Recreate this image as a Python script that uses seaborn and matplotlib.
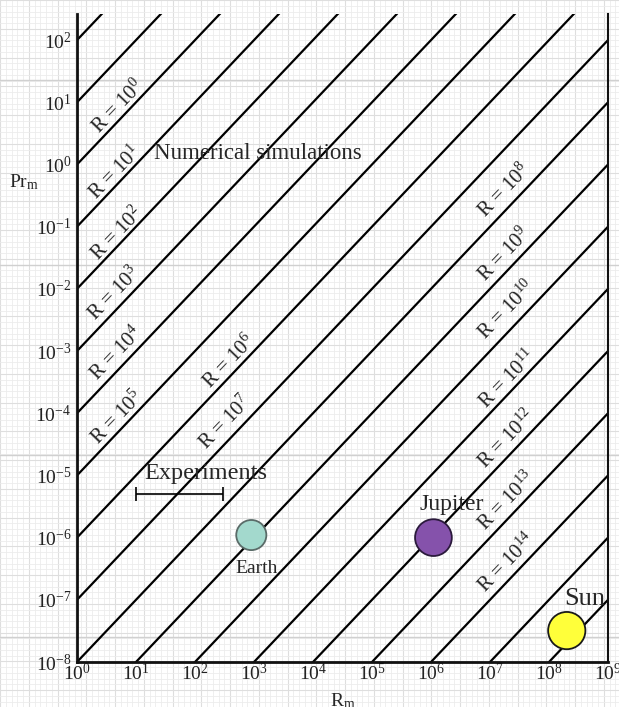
import numpy as np
import pandas as pd
import matplotlib
matplotlib.use('Agg')
from matplotlib import pyplot as plt
from matplotlib.ticker import LogLocator, LogFormatterMathtext, MultipleLocator
import seaborn as sns

sns.set_theme(style='white')
plt.rcParams['font.family'] = ['Liberation Serif', 'DejaVu Serif']
plt.rcParams['mathtext.fontset'] = 'custom'
plt.rcParams['mathtext.rm'] = 'Liberation Serif'
plt.rcParams['mathtext.it'] = 'Liberation Serif:italic'

# iso-lines R = Rm / Prm = 10^k
line_exponents = list(range(-2, 17))
rm_ends = [1.0, 1e9]

# label exponents and label centres (log10 Rm, log10 Prm)
label_exponents = [0, 1, 2, 3, 4, 5, 6, 7, 8, 9, 10, 11, 12, 13, 14]
label_log_rm = [0.70, 0.64, 0.68, 0.64, 0.66, 0.68, 2.58, 2.51,
                7.25, 7.25, 7.29, 7.30, 7.29, 7.29, 7.29]
label_log_prm = [0.93, -0.14, -1.11, -2.08, -3.05, -4.07, -3.18, -4.15,
                 -0.43, -1.45, -2.34, -3.45, -4.42, -5.41, -6.41]

bodies = ['Earth', 'Jupiter', 'Sun']
body_rm = [9e2, 1.1e6, 2e8]
body_prm = [1.1e-6, 1.0e-6, 3.2e-8]
body_face = ['#a3d9cd', '#8552ab', '#ffff3a']
body_edge = ['#5a6b68', '#2b1a3c', '#1a1a1a']
body_size = [470, 700, 720]

exp_rm = [10, 300]
exp_prm = 5e-6

lines = pd.DataFrame(
    [(k, rm, rm / 10.0**k) for k in line_exponents for rm in rm_ends],
    columns=['k', 'Rm', 'Prm'])

fig = plt.figure(figsize=(6.19, 7.07), dpi=100)

# graph paper background
bg = fig.add_axes([0, 0, 1, 1], zorder=-1)
bg.set_xlim(0, 619)
bg.set_ylim(707, 0)
bg.xaxis.set_minor_locator(MultipleLocator(5.75))
bg.yaxis.set_minor_locator(MultipleLocator(5.75))
bg.xaxis.set_major_locator(MultipleLocator(28.75))
bg.yaxis.set_major_locator(MultipleLocator(28.75))
bg.grid(which='minor', color='#ececec', lw=0.6)
bg.grid(which='major', color='#dedede', lw=0.8)
for yy in [80, 265, 455, 637]:
    bg.axhline(yy, color='#d0d0d0', lw=1.0)
bg.tick_params(which='both', length=0, labelbottom=False, labelleft=False)
for s in bg.spines.values():
    s.set_visible(False)

ax = fig.add_axes([77 / 619, 45 / 707, 531 / 619, 648 / 707])
ax.set_facecolor('none')
sns.lineplot(data=lines, x='Rm', y='Prm', units='k', estimator=None,
             color='black', lw=1.6, ax=ax)
ax.set_xscale('log')
ax.set_yscale('log')
ax.set_xlim(1, 1e9)
ax.set_ylim(1e-8, 10**2.42)

for k, lx, ly in zip(label_exponents, label_log_rm, label_log_prm):
    ax.text(10**lx, 10**ly, 'R = 10$^{%d}$' % k,
            rotation=46, rotation_mode='anchor', ha='center', va='center',
            fontsize=15, color='#222222')

sns.scatterplot(x=body_rm, y=body_prm, hue=bodies, palette=body_face,
                size=bodies, sizes=dict(zip(bodies, body_size)),
                edgecolor=body_edge, linewidth=1.3, legend=False, ax=ax, zorder=5)

ax.annotate('Earth', xy=(body_rm[0], body_prm[0]), xytext=(4, -24),
            textcoords='offset points', ha='center', va='center', fontsize=14)
ax.annotate('Jupiter', xy=(body_rm[1], body_prm[1]), xytext=(13, 24),
            textcoords='offset points', ha='center', va='center', fontsize=17)
ax.annotate('Sun', xy=(body_rm[2], body_prm[2]), xytext=(13, 23),
            textcoords='offset points', ha='center', va='center', fontsize=19)

xc = np.sqrt(exp_rm[0] * exp_rm[1])
ax.errorbar([xc], [exp_prm], xerr=[[xc - exp_rm[0]], [exp_rm[1] - xc]],
            color='black', lw=1.2, capsize=5, capthick=1.2)
ax.text(10**2.19, exp_prm * 1.45, 'Experiments', ha='center', va='bottom',
        fontsize=17.5)
ax.text(10**1.3, 10**0.0, 'Numerical simulations', ha='left', va='bottom',
        fontsize=16.5)

ax.xaxis.set_major_locator(LogLocator(base=10, numticks=12))
ax.yaxis.set_major_locator(LogLocator(base=10, numticks=14))
ax.xaxis.set_major_formatter(LogFormatterMathtext())
ax.yaxis.set_major_formatter(LogFormatterMathtext())
ax.xaxis.set_minor_locator(plt.NullLocator())
ax.yaxis.set_minor_locator(plt.NullLocator())
ax.tick_params(axis='both', length=0, labelsize=14, colors='#222222')
ax.tick_params(axis='y', pad=4)
ax.tick_params(axis='x', pad=1)

ax.set_xlabel('R$_{\\rm m}$', fontsize=14)
ax.set_ylabel('Pr$_{\\rm m}$', fontsize=14, rotation=0)
ax.xaxis.set_label_coords(0.50, -0.045)
ax.yaxis.set_label_coords(-0.10, 0.725)

ax.spines['top'].set_visible(False)
ax.spines['left'].set_linewidth(2)
ax.spines['bottom'].set_linewidth(2)
ax.spines['right'].set_linewidth(1.5)
for s in ['left', 'bottom', 'right']:
    ax.spines[s].set_color('#111111')
ax.grid(False)

fig.savefig('out.png', dpi=100)
